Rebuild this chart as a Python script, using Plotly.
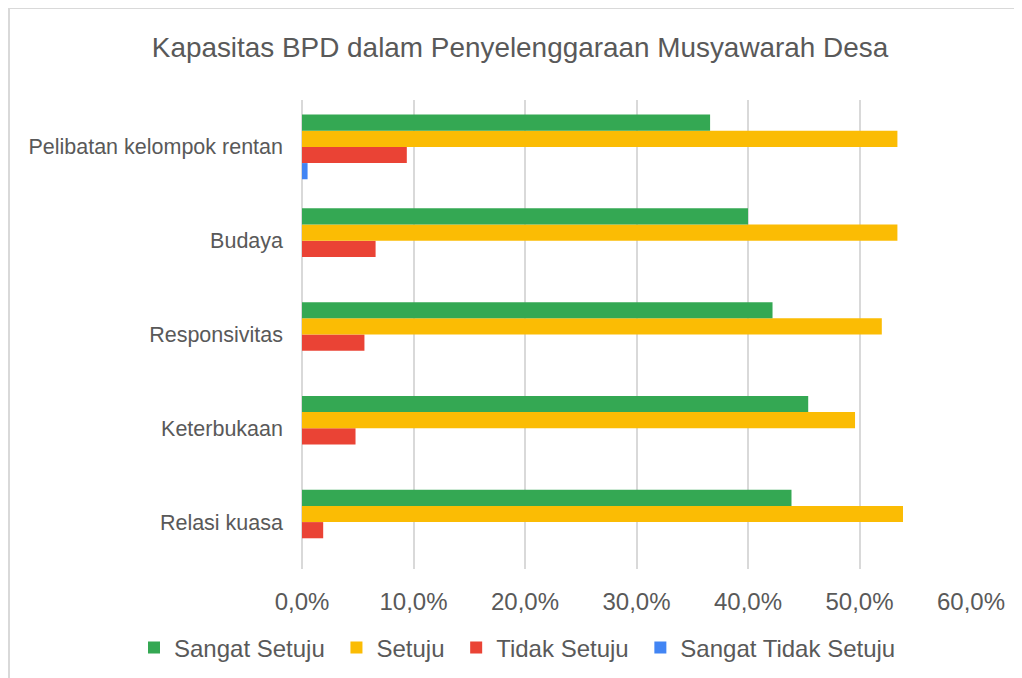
import plotly.graph_objects as go

categories = ["Relasi kuasa", "Keterbukaan", "Responsivitas", "Budaya", "Pelibatan kelompok rentan"]
sangat_setuju = [43.9, 45.4, 42.2, 40.0, 36.6]
setuju = [53.9, 49.6, 52.0, 53.4, 53.4]
tidak_setuju = [1.9, 4.8, 5.6, 6.6, 9.4]
sangat_tidak_setuju = [0.0, 0.0, 0.0, 0.0, 0.5]
x_ticks = [0, 10, 20, 30, 40, 50, 60]
x_tick_labels = ["0,0%", "10,0%", "20,0%", "30,0%", "40,0%", "50,0%", "60,0%"]

series = [
    ("Sangat Tidak Setuju", sangat_tidak_setuju, "#4285F4", 4),
    ("Tidak Setuju", tidak_setuju, "#EA4335", 3),
    ("Setuju", setuju, "#FBBC04", 2),
    ("Sangat Setuju", sangat_setuju, "#34A853", 1),
]

FONT = "Liberation Sans, Arial, sans-serif"
TEXT = "#595959"

fig = go.Figure()
for name, vals, color, rank in series:
    fig.add_trace(go.Bar(
        y=categories, x=vals, name=name + "\u00a0", orientation="h",
        marker=dict(color=color, line=dict(width=0)),
        legendrank=rank,
        hovertemplate=name + ": %{x:.1f}%<extra></extra>",
    ))

# page body has an 8px margin; figure coordinates = reference coordinates - 8
OFF = 8
W, H = 1022 - OFF, 678 - OFF
L, T = 302 - OFF, 100 - OFF
pw, ph = 669, 469
R, B = W - L - pw, H - T - ph

def px_x(p):  # reference pixel -> paper x
    return (p - OFF - L) / pw

def px_y(p):  # reference pixel -> paper y
    return (T + ph - (p - OFF)) / ph

fig.update_layout(
    width=W, height=H,
    margin=dict(l=L, r=R, t=T, b=B, autoexpand=False),
    paper_bgcolor="white", plot_bgcolor="white",
    barmode="group", bargap=0.31, bargroupgap=0,
    font=dict(family=FONT, color=TEXT),
    title=dict(
        text="Kapasitas BPD dalam Penyelenggaraan Musyawarah Desa",
        x=(520 - OFF) / W, xanchor="center", xref="container",
        y=1 - (47 - OFF) / H, yanchor="middle", yref="container",
        font=dict(size=27.9, color=TEXT, family=FONT),
    ),
    xaxis=dict(
        range=[0, 60], tickvals=x_ticks, ticktext=x_tick_labels,
        showgrid=True, gridcolor="#d9d9d9", gridwidth=2,
        zeroline=True, zerolinecolor="#d9d9d9", zerolinewidth=2,
        showline=False, ticks="", ticklabelstandoff=16,
        tickfont=dict(size=24, color=TEXT, family=FONT),
        fixedrange=True,
    ),
    yaxis=dict(
        categoryorder="array", categoryarray=categories,
        showgrid=False, zeroline=False, showline=False, ticks="",
        ticklabelstandoff=18,
        tickfont=dict(size=21.5, color=TEXT, family=FONT),
        fixedrange=True,
    ),
    legend=dict(
        orientation="h", x=px_x(134), xanchor="left", xref="paper",
        y=px_y(648), yanchor="middle", yref="paper",
        font=dict(size=24, color=TEXT, family=FONT),
        itemwidth=30, bgcolor="rgba(0,0,0,0)",
    ),
    shapes=[dict(
        type="rect", xref="paper", yref="paper",
        x0=px_x(9), x1=px_x(1060), y0=px_y(720), y1=px_y(8),
        line=dict(color="#d9d9d9", width=2), fillcolor="rgba(0,0,0,0)",
        layer="below",
    )],
)

fig.write_html("out.html", config={"displayModeBar": False})
